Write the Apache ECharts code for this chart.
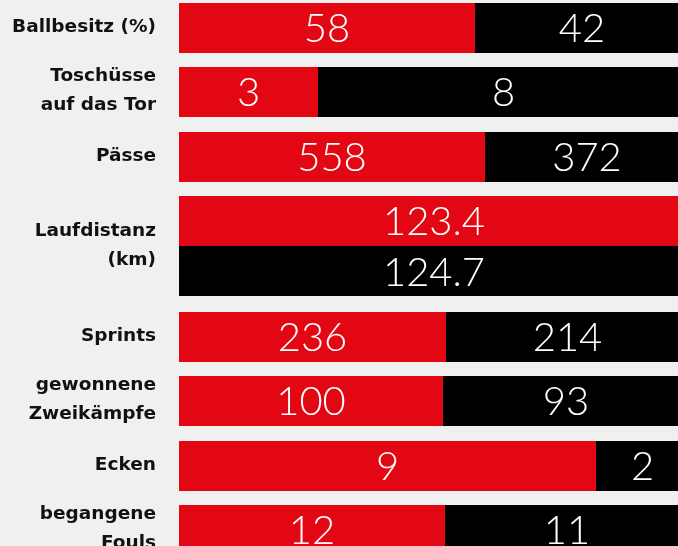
<!DOCTYPE html>
<html>
<head>
<meta charset="utf-8">
<script src="https://cdn.jsdelivr.net/npm/echarts@6/dist/echarts.min.js"></script>
<style>
  html, body { margin: 0; padding: 0; background: #f0f0f0; }
  #chart { width: 678px; height: 546px; }
</style>
</head>
<body>
<div id="chart"></div>
<script>
// Match stats: home side (red) vs away side (black)
const categories = ['Ballbesitz (%)', 'Toschüsse\nauf das Tor', 'Pässe', 'Laufdistanz\n(km)',
                    'Sprints', 'gewonnene\nZweikämpfe', 'Ecken', 'begangene\nFouls'];
const homeValues = [58, 3, 558, 123.4, 236, 100, 9, 12];
const awayValues = [42, 8, 372, 124.7, 214, 93, 2, 11];
// rows shown as two full bars instead of one split bar
const splitRows = ['Laufdistanz\n(km)'];

const RED = '#e30613';
const BLACK = '#000000';
const BAR_H = 50;
const COLLAPSE = 12; // pixels removed after the two bars of a split row

// one axis slot per bar; split rows take two slots
const slots = [];
const rowSlot = [];
categories.forEach((c, i) => {
    rowSlot.push(slots.length);
    slots.push(c);
    if (splitRows.includes(c)) slots.push('');
});
const firstCollapsed = rowSlot[categories.indexOf(splitRows[0])] + 1;

const data = categories.map((c, i) => [i, homeValues[i], awayValues[i]]);

function slotY(api, slot) {
    let y = api.coord([0, slot])[1];
    if (slot >= firstCollapsed) y -= COLLAPSE;
    return Math.round(y);
}

function valueText(x, y, text) {
    return {
        type: 'text',
        style: {
            text: text, x: x, y: y + 1,
            fill: '#ffffff',
            fontFamily: 'Lato', fontWeight: 300, fontSize: 40,
            align: 'center', verticalAlign: 'middle'
        }
    };
}

function bar(x, y, w, color) {
    return { type: 'rect', shape: { x: x, y: y - BAR_H / 2, width: w, height: BAR_H }, style: { fill: color } };
}

function renderItem(params, api) {
    const i = api.value(0);
    const home = api.value(1);
    const away = api.value(2);
    const slot = rowSlot[i];
    const x0 = api.coord([0, slot])[0];
    const x1 = api.coord([100, slot])[0];
    const y = slotY(api, slot);
    const children = [];
    let labelY = y;

    if (splitRows.includes(categories[i])) {
        // second bar sits directly under the first one
        const y2 = y + BAR_H + 1;
        children.push(bar(x0, y, x1 - x0, RED));
        children.push(bar(x0, y2 - 1, x1 - x0, BLACK));
        children.push(valueText((x0 + x1) / 2, y, String(home)));
        children.push(valueText((x0 + x1) / 2, y2, String(away)));
        labelY = (y + y2) / 2;
    } else {
        const xm = Math.round(api.coord([home / (home + away) * 100, slot])[0]);
        children.push(bar(x0, y, xm - x0, RED));
        children.push(bar(xm, y, x1 - xm, BLACK));
        children.push(valueText((x0 + xm) / 2, y, String(home)));
        children.push(valueText((xm + x1) / 2, y, String(away)));
    }

    children.push({
        type: 'text',
        style: {
            text: categories[i], x: x0 - 23, y: labelY - 1,
            fill: '#111111',
            fontFamily: 'DejaVu Sans', fontWeight: 'bold', fontSize: 18.5, lineHeight: 29,
            align: 'right', verticalAlign: 'middle'
        }
    });
    return { type: 'group', children: children };
}

const chart = echarts.init(document.getElementById('chart'));
chart.setOption({
    backgroundColor: '#f0f0f0',
    animation: false,
    grid: { left: 179, right: -11, top: -4, bottom: -28, outerBoundsMode: 'none' },
    xAxis: { type: 'value', min: 0, max: 100, show: false },
    yAxis: { type: 'category', data: slots, inverse: true, show: false },
    series: [{
        type: 'custom',
        renderItem: renderItem,
        data: data,
        clip: false,
        encode: { x: [1, 2], y: 0 }
    }]
});
</script>
</body>
</html>
